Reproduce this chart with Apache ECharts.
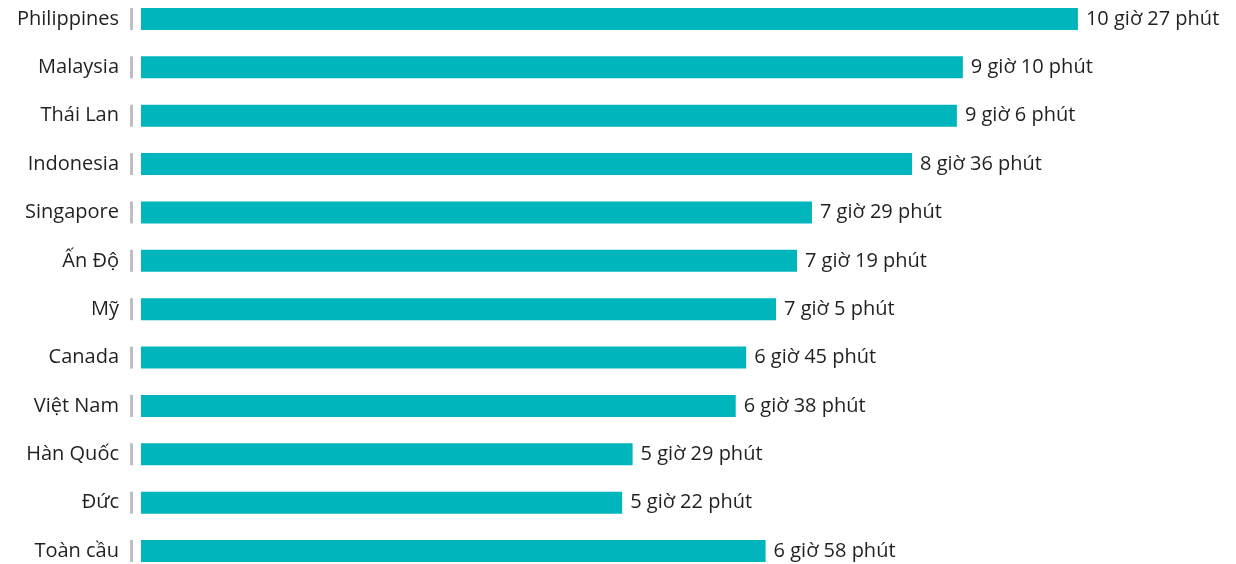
<!DOCTYPE html>
<html>
<head>
<meta charset="utf-8">
<script src="https://cdn.jsdelivr.net/npm/echarts@6/dist/echarts.min.js"></script>
<style>
  html, body { margin: 0; padding: 0; background: #fff; }
  #main { width: 1236px; height: 564px; }
</style>
</head>
<body>
<div id="main"></div>
<script>
// thời gian dùng internet mỗi ngày, tính bằng phút
var countries = ['Philippines', 'Malaysia', 'Thái Lan', 'Indonesia', 'Singapore', 'Ấn Độ', 'Mỹ', 'Canada', 'Việt Nam', 'Hàn Quốc', 'Đức', 'Toàn cầu'];
var minutes = [627, 550, 546, 516, 449, 439, 425, 405, 398, 329, 322, 418];

var textFont = '"Open Sans", "Noto Sans", sans-serif';

function fmt(v) {
  return Math.floor(v / 60) + ' giờ ' + (v % 60) + ' phút';
}

var chart = echarts.init(document.getElementById('main'));
var option = {
  animation: false,
  grid: { left: 141, right: 49, top: 19, bottom: 13 },
  xAxis: {
    type: 'value',
    min: 0,
    max: 700,
    show: false
  },
  yAxis: {
    type: 'category',
    data: countries,
    inverse: true,
    boundaryGap: false,
    axisLine: { show: false },
    axisTick: { show: false },
    axisLabel: {
      margin: 8,
      formatter: function (v) { return '{n|' + v + '}{t|}'; },
      rich: {
        n: { fontFamily: textFont, fontSize: 20, color: '#231f20', padding: [0, 11, 0, 0] },
        t: { width: 3, height: 22, backgroundColor: '#bcbec0' }
      }
    }
  },
  series: [{
    type: 'bar',
    data: minutes,
    barWidth: 22,
    itemStyle: { color: '#00b5bb' },
    label: {
      show: true,
      position: 'right',
      distance: 8,
      fontFamily: textFont,
      fontSize: 20,
      color: '#231f20',
      formatter: function (p) { return fmt(p.value); }
    }
  }]
};
chart.setOption(option);
</script>
</body>
</html>
